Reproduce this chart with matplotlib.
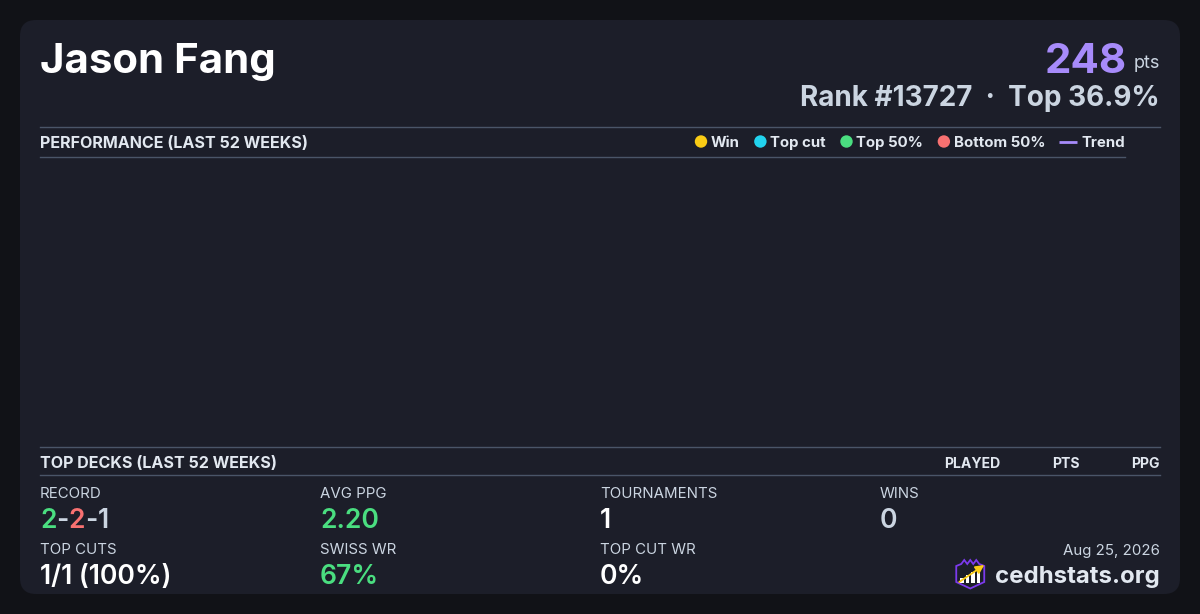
import matplotlib
matplotlib.use("Agg")
import matplotlib.pyplot as plt
from matplotlib.patches import FancyBboxPatch, Polygon, Rectangle, Circle

plt.rcParams['font.family'] = ['Inter', 'DejaVu Sans']

# ---------------- data ----------------
player_name = "Jason Fang"
points = 248
rank = 13727
top_pct = 36.9
perf_title = "PERFORMANCE (LAST 52 WEEKS)"
legend_labels = ["Win", "Top cut", "Top 50%", "Bottom 50%", "Trend"]
legend_colors = ["#facc15", "#22d3ee", "#4ade80", "#f87171", "#a78bfa"]
decks_title = "TOP DECKS (LAST 52 WEEKS)"
deck_columns = ["PLAYED", "PTS", "PPG"]
record = [2, 2, 1]
record_colors = ["#4ade80", "#f87171", "#cbd5e1"]
stat_labels = ["RECORD", "AVG PPG", "TOURNAMENTS", "WINS",
               "TOP CUTS", "SWISS WR", "TOP CUT WR"]
stat_values = [None, "2.20", "1", "0", "1/1 (100%)", "67%", "0%"]
stat_colors = [None, "#4ade80", "#ffffff", "#cbd5e1", "#ffffff", "#4ade80", "#ffffff"]
date_text = "Aug 25, 2026"
site_text = "cedhstats.org"

# ---------------- style ----------------
BG = "#111217"
CARD = "#1c1e29"
LINE = "#4a5568"
LABEL = "#cbd5e1"
HEAD = "#e2e8f0"

W, H = 1200, 614
fig = plt.figure(figsize=(W / 100, H / 100), dpi=100, facecolor=BG)
ax = fig.add_axes([0, 0, 1, 1])
ax.set_xlim(0, W)
ax.set_ylim(H, 0)
ax.axis("off")
ax.set_facecolor(BG)

def px(v):
    return v * 0.72

card = FancyBboxPatch((20, 20), 1160, 574, boxstyle="round,pad=0,rounding_size=16",
                      facecolor=CARD, edgecolor="none")
ax.add_patch(card)

fig.canvas.draw()
renderer = fig.canvas.get_renderer()

def text_width(t):
    return t.get_window_extent(renderer=renderer).width

# ---------------- header ----------------
ax.text(40, 73, player_name, fontsize=px(42), fontweight="bold", color="white",
        ha="left", va="baseline")
t_pts = ax.text(1160, 68, "pts", fontsize=px(18), color=LABEL, ha="right", va="baseline")
w_pts = text_width(t_pts)
ax.text(1160 - w_pts - 7, 73, f"{points}", fontsize=px(42), fontweight="bold",
        color="#a78bfa", ha="right", va="baseline")
ax.text(1160, 106, f"Rank #{rank}  \u00b7  Top {top_pct}%", fontsize=px(27.9),
        fontweight="bold", color=LABEL, ha="right", va="baseline")

# ---------------- performance section ----------------
ax.plot([40, 1160], [126.5, 126.5], color=LINE, lw=1)
ax.plot([40, 1125], [156.5, 156.5], color=LINE, lw=1)
ax.text(40, 147.5, perf_title, fontsize=px(16.1), fontweight="bold", color=HEAD,
        ha="left", va="baseline")

# legend laid out right-to-left, ending at x=1125
x = 1125
items = list(zip(legend_labels, legend_colors))
for lab, col in reversed(items):
    t = ax.text(x, 147, lab, fontsize=px(15), fontweight="bold", color=HEAD,
                ha="right", va="baseline")
    w = text_width(t)
    x_text_left = x - w
    if lab == "Trend":
        ax.plot([x_text_left - 22, x_text_left - 4], [141.5, 141.5], color=col, lw=2,
                solid_capstyle="butt")
        x = x_text_left - 22 - 14
    else:
        ax.add_patch(Circle((x_text_left - 10, 141.5), 6.2, facecolor=col, edgecolor="none"))
        x = x_text_left - 16.5 - 14

# ---------------- top decks section ----------------
ax.plot([40, 1160], [446.5, 446.5], color=LINE, lw=1)
ax.plot([40, 1160], [474.5, 474.5], color=LINE, lw=1)
ax.text(40, 468.5, decks_title, fontsize=px(16.1), fontweight="bold", color=HEAD,
        ha="left", va="baseline")
col_right = [1000, 1080, 1160]
for lab, xr in zip(deck_columns, col_right):
    ax.text(xr, 468, lab, fontsize=px(14), fontweight="bold", color=HEAD,
            ha="right", va="baseline")

# ---------------- stats grid ----------------
col_x = [40, 320, 600, 880]
label_y = [498, 554]
value_y = [528, 584]
for i, lab in enumerate(stat_labels):
    r, c = divmod(i, 4)
    ax.text(col_x[c], label_y[r], lab, fontsize=px(15), color=LABEL,
            ha="left", va="baseline")
    if stat_values[i] is not None:
        ax.text(col_x[c], value_y[r], stat_values[i], fontsize=px(26.5),
                fontweight="semibold", color=stat_colors[i], ha="left", va="baseline")

# record with coloured parts
parts = [(str(record[0]), record_colors[0]), ("-", LABEL),
         (str(record[1]), record_colors[1]), ("-", LABEL),
         (str(record[2]), record_colors[2])]
xx = 40
for s, colr in parts:
    t = ax.text(xx, value_y[0], s, fontsize=px(26.5), fontweight="semibold",
                color=colr, ha="left", va="baseline")
    xx += text_width(t)

# ---------------- footer ----------------
ax.text(1160, 555, date_text, fontsize=px(15), color=LABEL, ha="right", va="baseline")
t_site = ax.text(1160, 583, site_text, fontsize=px(24), fontweight="bold", color=HEAD,
                 ha="right", va="baseline")
ws = text_width(t_site)
lx = 1160 - ws - 39  # logo left

# logo: shield with crown, bars, arrow
shield = [(lx, 566), (lx + 5, 564), (lx + 8, 560), (lx + 11, 564), (lx + 14, 560),
          (lx + 17, 564), (lx + 20, 560), (lx + 23, 564), (lx + 28, 566),
          (lx + 28, 582), (lx + 14, 588.5), (lx, 582)]
ax.add_patch(Polygon(shield, closed=True, facecolor="#1c1e29", edgecolor="#7c3aed", lw=1.3))
bars_h = [5, 8, 11, 14]
for k, bh in enumerate(bars_h):
    ax.add_patch(Rectangle((lx + 4 + k * 5.5, 583 - bh), 3.4, bh, facecolor="white",
                           edgecolor="none"))
ax.annotate("", xy=(lx + 28, 565), xytext=(lx + 3, 582),
            arrowprops=dict(arrowstyle="-|>,head_length=0.5,head_width=0.25",
                            color="#facc15", lw=1.3, shrinkA=0, shrinkB=0))

fig.savefig("out.png", dpi=100, facecolor=BG)
